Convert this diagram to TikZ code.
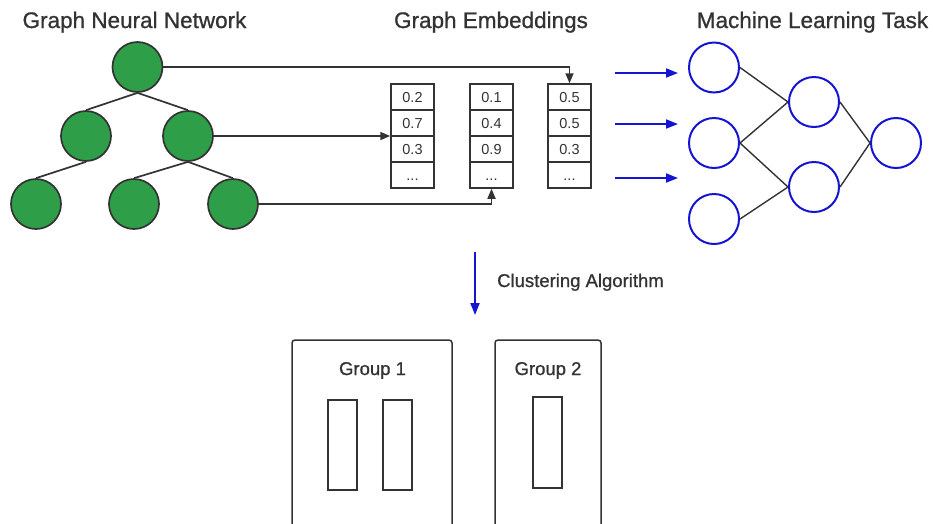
\documentclass[tikz,border=0pt]{standalone}
\usepackage{fontspec}
\setmainfont{Liberation Sans}
\newfontfamily\headfont[FakeBold=0.9]{Liberation Sans}
\usetikzlibrary{arrows.meta}
\definecolor{ink}{HTML}{333333}
\definecolor{leafgreen}{HTML}{2E9E48}
\definecolor{nnblue}{HTML}{1414D2}

\begin{document}
\begin{tikzpicture}[x=1pt,y=-1pt,
  title/.style={font=\headfont\fontsize{22.5}{27}\selectfont, text=ink, anchor=base, inner sep=0},
  label/.style={font=\headfont\fontsize{18.5}{22}\selectfont, text=ink, anchor=base, inner sep=0},
  gnode/.style={circle, draw=ink, line width=1.7pt, fill=leafgreen, minimum size=50pt, inner sep=0},
  nnode/.style={circle, draw=nnblue, line width=2pt, minimum size=50pt, inner sep=0},
  cell/.style={draw=ink, line width=1.5pt, minimum width=43pt, minimum height=26pt,
    inner sep=0, text height=10.4pt, text depth=0pt,
    font=\fontsize{14.5}{17}\selectfont, text=ink},
  treeedge/.style={draw=ink, line width=1.7pt},
  nnedge/.style={draw=ink, line width=1.4pt},
  link/.style={draw=ink, line width=1.7pt, -{Triangle[length=10pt,width=8pt]}},
  feed/.style={draw=nnblue, line width=1.8pt, -{Triangle[length=12pt,width=9pt]}},
  groupbox/.style={draw=ink, line width=1.5pt, rounded corners=3pt},
  member/.style={draw=ink, line width=1.5pt, minimum width=29pt, inner sep=0},
]
\useasboundingbox (0,0) rectangle (933,523);
\clip (0,0) rectangle (933,523);

% Titles
\node[title] (t1) at (134.5,28) {Graph Neural Network};
\node[title] (t2) at (491,28) {Graph Embeddings};
\node[title] (t3) at (812.5,28) {Machine Learning Task};

% Tree
\node[gnode] (r) at (137.5,67) {};
\node[gnode] (a) at (86,136) {};
\node[gnode] (b) at (188,136) {};
\node[gnode] (l1) at (36,204) {};
\node[gnode] (l2) at (134,204) {};
\node[gnode] (l3) at (233,204) {};
\draw[treeedge] (r.south) -- (a.north);
\draw[treeedge] (r.south) -- (b.north);
\draw[treeedge] (a.south) -- (l1.north);
\draw[treeedge] (b.south) -- (l2.north);
\draw[treeedge] (b.south) -- (l3.north);

% Embedding vectors
\node[cell] (c11) at (412.5,97) {0.2};
\node[cell] (c12) at (412.5,123) {0.7};
\node[cell] (c13) at (412.5,149) {0.3};
\node[cell] (c14) at (412.5,175) {...};
\node[cell] (c21) at (491.5,97) {0.1};
\node[cell] (c22) at (491.5,123) {0.4};
\node[cell] (c23) at (491.5,149) {0.9};
\node[cell] (c24) at (491.5,175) {...};
\node[cell] (c31) at (569.5,97) {0.5};
\node[cell] (c32) at (569.5,123) {0.5};
\node[cell] (c33) at (569.5,149) {0.3};
\node[cell] (c34) at (569.5,175) {...};

% Node-to-embedding links
\draw[link] (r.east) -| (c31.north);
\draw[link] (b.east) -- (b.east -| c12.west);
\draw[link] (l3.east) -| (c24.south);

% Neural network
\node[nnode] (n1) at (714,67.5) {};
\node[nnode] (n2) at (714,143) {};
\node[nnode] (n3) at (714,219) {};
\node[nnode] (m1) at (814,102) {};
\node[nnode] (m2) at (814,187) {};
\node[nnode] (o) at (896,143) {};
\draw[nnedge] (n1.east) -- (m1.west);
\draw[nnedge] (n2.east) -- (m1.west);
\draw[nnedge] (n2.east) -- (m2.west);
\draw[nnedge] (n3.east) -- (m2.west);
\draw[nnedge] (m1.east) -- (o.west);
\draw[nnedge] (m2.east) -- (o.west);

% Inputs fed to the network
\coordinate (f1s) at (615,73);  \coordinate (f1e) at (678,73);
\coordinate (f2s) at (615,124); \coordinate (f2e) at (678,124);
\coordinate (f3s) at (615,178); \coordinate (f3e) at (678,178);
\draw[feed] (f1s) -- (f1e);
\draw[feed] (f2s) -- (f2e);
\draw[feed] (f3s) -- (f3e);

% Clustering step
\coordinate (cs) at (475,252);
\coordinate (ce) at (475,315);
\draw[feed] (cs) -- (ce);
\node[label, anchor=base west] (cl) at (497,287) {Clustering Algorithm};

% Groups
\draw[groupbox] (292,340) rectangle (452,540);
\draw[groupbox] (495,340) rectangle (601,540);
\node[label] (g1) at (372.5,375) {Group 1};
\node[label] (g2) at (548,375) {Group 2};
\node[member, minimum height=90pt] (g1a) at (342.5,445) {};
\node[member, minimum height=90pt] (g1b) at (397.5,445) {};
\node[member, minimum height=91pt] (g2a) at (547.5,442.5) {};
\end{tikzpicture}
\end{document}
